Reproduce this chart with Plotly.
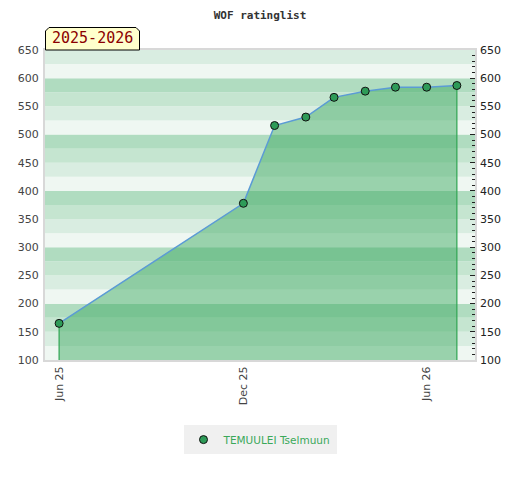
import plotly.graph_objects as go

# ---- data ----
dates = ["2025-06-01", "2025-12-01", "2026-01-01", "2026-02-01", "2026-03-01",
         "2026-04-01", "2026-05-01", "2026-06-01", "2026-07-01"]
ratings = [165, 378, 516, 531, 566, 577, 584, 584, 587]
player = "TEMUULEI Tselmuun"
title_text = "WOF ratinglist"
season = "2025-2026"
y_min, y_max = 100, 650
x_range = ["2025-05-18", "2026-07-19"]

band_colors = ["#eff7f2", "#d9ede1", "#c5e5d0", "#b0dcc0"]  # from bottom within each 100

fig = go.Figure()

# background bands
shapes = []
y = y_min
i = 0
while y < y_max:
    shapes.append(dict(type="rect", xref="paper", yref="y", x0=0, x1=1, y0=y, y1=y + 25,
                       fillcolor=band_colors[i % 4], line=dict(width=0), layer="below"))
    y += 25
    i += 1

# season badge with clipped top corners
shapes.append(dict(type="path", xref="paper", yref="paper",
                   xsizemode="pixel", ysizemode="pixel", xanchor=0, yanchor=1,
                   path="M 0.5 0 L 0.5 19 L 4 22.5 L 91 22.5 L 94.5 19 L 94.5 0 Z",
                   fillcolor="#ffffcc", line=dict(color="#000", width=1), layer="above"))

# filled area + line
fig.add_trace(go.Scatter(
    x=dates, y=ratings, mode="lines", fill="tozeroy",
    fillcolor="rgba(57,168,93,0.47)",
    line=dict(color="#5b9bd5", width=1.5), showlegend=False, hoverinfo="skip"))

# vertical edges of the area
for idx in (0, len(dates) - 1):
    fig.add_trace(go.Scatter(
        x=[dates[idx], dates[idx]], y=[y_min, ratings[idx]], mode="lines",
        line=dict(color="#2fa552", width=1.2), showlegend=False, hoverinfo="skip"))

# markers
fig.add_trace(go.Scatter(
    x=dates, y=ratings, mode="markers", name=player,
    marker=dict(color="#2e9b58", size=8, line=dict(color="#111", width=1))))

# dummy trace for right axis
fig.add_trace(go.Scatter(x=[dates[0]], y=[ratings[0]], yaxis="y2", mode="markers",
                         marker=dict(opacity=0), showlegend=False, hoverinfo="skip"))

# the page body adds an ~8px offset, so the figure is drawn 8px smaller with shifted margins
fig.update_layout(
    width=512, height=472,
    margin=dict(l=37, r=45, t=42, b=120),
    paper_bgcolor="white", plot_bgcolor="white",
    shapes=shapes,
    title=dict(text=title_text, x=0.5, xref="paper", y=1 - 3 / 472, yanchor="top",
               automargin=False, pad=dict(t=0),
               font=dict(family="DejaVu Sans Mono", size=11, color="#333", weight="bold")),
    xaxis=dict(type="date", range=x_range, tick0="2025-06-01", dtick="M6",
               tickformat="%b %y", tickangle=-90, showgrid=False, zeroline=False,
               ticks="", automargin=False,
               tickfont=dict(family="DejaVu Sans", size=11, color="#444"),
               showline=True, linecolor="#d8d8d8", linewidth=2, mirror=True),
    yaxis=dict(range=[y_min, y_max], dtick=50, showgrid=False, zeroline=False,
               ticks="", automargin=False, ticklabelstandoff=2,
               tickfont=dict(family="DejaVu Sans", size=11, color="#444"),
               showline=True, linecolor="#d8d8d8", linewidth=2, mirror=True),
    yaxis2=dict(range=[y_min, y_max], dtick=50, overlaying="y", side="right",
                showgrid=False, zeroline=False, ticks="inside", ticklen=5,
                tickcolor="#222", tickwidth=1, automargin=False, ticklabelstandoff=4,
                minor=dict(dtick=10, ticks="inside", ticklen=3, tickcolor="#222"),
                tickfont=dict(family="DejaVu Sans", size=11, color="#222")),
    legend=dict(orientation="h", x=0.5, xanchor="center", y=-0.21, yanchor="top",
                bgcolor="#f0f0f0", font=dict(family="DejaVu Sans", size=10.5, color="#3aa85a")),
    annotations=[dict(text=season, xref="paper", yref="paper", x=47.5 / 430, y=1,
                      xanchor="center", yanchor="bottom", yshift=1, showarrow=False,
                      font=dict(family="DejaVu Sans Mono", size=15, color="#8b0000"))],
)

fig.write_html("out.html")
